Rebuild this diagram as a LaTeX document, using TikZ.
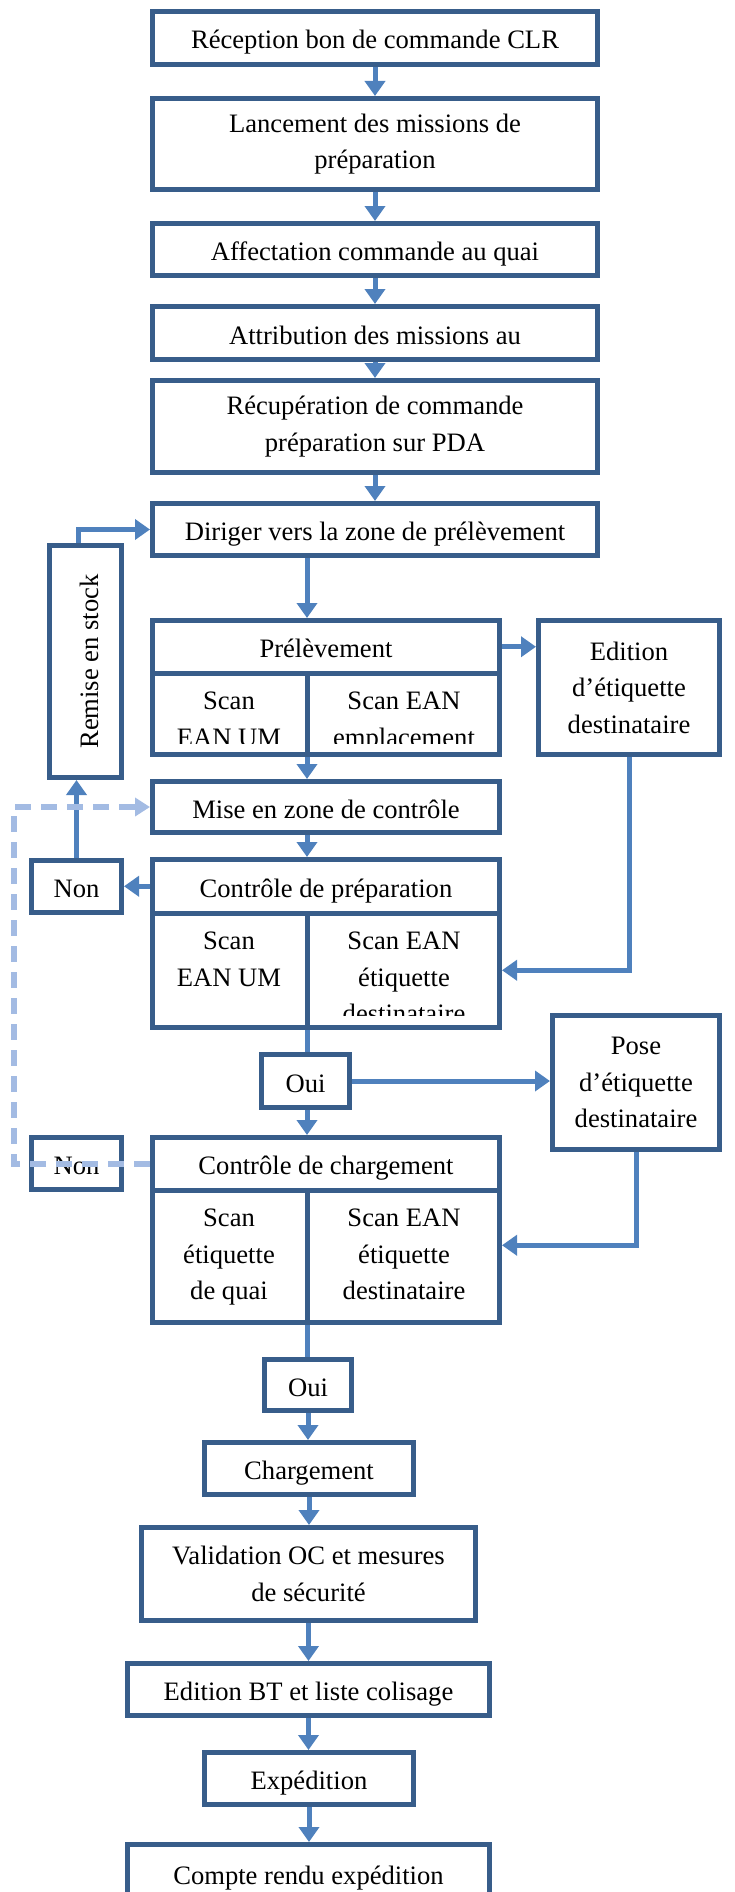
\documentclass[tikz,border=0pt]{standalone}
\usepackage{fontspec}
\setmainfont{Liberation Serif}
\usetikzlibrary{arrows.meta,calc}
\definecolor{frameblue}{HTML}{385D8A}
\definecolor{arrowblue}{HTML}{4F81BD}
\definecolor{dashblue}{HTML}{A3BBE3}

\begin{document}
\begin{tikzpicture}[x=1pt,y=-1pt,
  box/.style={draw=frameblue, line width=5pt, inner sep=0pt, align=center,
    font=\fontsize{26.6}{36.5}\selectfont},
  one/.style={text height=22pt, text depth=0pt},
  cellbox/.style={draw=frameblue, line width=5pt, inner sep=0pt},
  txt/.style={inner sep=0pt, align=center, anchor=north,
    font=\fontsize{26.6}{36.5}\selectfont},
  arrowline/.style={draw=arrowblue, line width=5pt,
    -{Triangle[length=15pt,width=20pt]}},
  plainline/.style={draw=arrowblue, line width=5pt},
  dashline/.style={draw=dashblue, line width=6pt, dash pattern=on 16pt off 10pt,
    -{Triangle[length=15pt,width=18pt]}},
]
\useasboundingbox (0,0) rectangle (734,1892);
\clip (0,0) rectangle (734,1892);

% main column, upper part
\node[box, one, minimum width=445pt, minimum height=53pt] (b1) at (375,38) {Réception bon de commande CLR};
\node[box, minimum width=445pt, minimum height=91pt] (b2) at (375,144) {Lancement des missions de\\préparation};
\node[box, one, minimum width=445pt, minimum height=52pt] (b3) at (375,249.5) {Affectation commande au quai};
\node[box, one, minimum width=445pt, minimum height=53pt] (b4) at (375,333) {Attribution des missions au};
\node[box, minimum width=445pt, minimum height=92pt] (b5) at (375,426.5) {Récupération de commande\\préparation sur PDA};
\node[box, one, minimum width=445pt, minimum height=52pt] (b6) at (375,529.5) {Diriger vers la zone de prélèvement};

% return to stock
\node[cellbox, minimum width=72pt, minimum height=232pt] (stock) at (85.5,661.5) {};
\node[txt, anchor=center, rotate=90] (stocktxt) at (89,661.5) {Remise en stock};

% picking
\node[box, one, minimum width=347pt, minimum height=52.5pt] (prelH) at (326,646.75) {Prélèvement};
\node[cellbox, minimum width=154.5pt, minimum height=81.5pt] (prelA) at (229.75,713.75) {};
\node[cellbox, minimum width=192.5pt, minimum height=81.5pt] (prelB) at (403.25,713.75) {};
\begin{scope}
  \clip (155,676) rectangle (497,743);
  \node[txt] (tprelA) at (229,692) {Scan\\EAN UM};
  \node[txt] (tprelB) at (404,692) {Scan EAN\\emplacement};
\end{scope}

\node[box, minimum width=181pt, minimum height=134pt] (edit) at (629,687.5) {Edition\\d’étiquette\\destinataire};

\node[box, one, minimum width=347pt, minimum height=51pt] (mise) at (326,807) {Mise en zone de contrôle};

% preparation check
\node[box, one, minimum width=347pt, minimum height=53.5pt] (cpH) at (326,886.25) {Contrôle de préparation};
\node[cellbox, minimum width=154.5pt, minimum height=114.5pt] (cpA) at (229.75,970.25) {};
\node[cellbox, minimum width=192.5pt, minimum height=114.5pt] (cpB) at (403.25,970.25) {};
\begin{scope}
  \clip (155,916) rectangle (497,1015);
  \node[txt] (tcpA) at (229,932) {Scan\\EAN UM};
  \node[txt] (tcpB) at (404,932) {Scan EAN\\étiquette\\destinataire};
\end{scope}

\node[box, one, minimum width=90pt, minimum height=52pt] (non1) at (76.5,886.5) {Non};
\node[box, one, minimum width=88pt, minimum height=53pt] (oui1) at (305.5,1081) {Oui};
\node[box, minimum width=167pt, minimum height=134pt] (pose) at (636,1082.5) {Pose\\d’étiquette\\destinataire};
\node[box, one, minimum width=90pt, minimum height=52pt] (non2) at (76.5,1163.5) {Non};

% loading check
\node[box, one, minimum width=347pt, minimum height=52.5pt] (ccH) at (326,1163.75) {Contrôle de chargement};
\node[cellbox, minimum width=154.5pt, minimum height=132.5pt] (ccA) at (229.75,1256.25) {};
\node[cellbox, minimum width=192.5pt, minimum height=132.5pt] (ccB) at (403.25,1256.25) {};
\node[txt] (tccA) at (229,1209) {Scan\\étiquette\\de quai};
\node[txt] (tccB) at (404,1209) {Scan EAN\\étiquette\\destinataire};

\node[box, one, minimum width=87pt, minimum height=51pt] (oui2) at (308,1385) {Oui};

% main column, lower part
\node[box, one, minimum width=209pt, minimum height=52pt] (charg) at (309,1468.5) {Chargement};
\node[box, minimum width=334pt, minimum height=93pt] (valid) at (308.5,1574) {Validation OC et mesures\\de sécurité};
\node[box, one, minimum width=362pt, minimum height=52pt] (editbt) at (308.5,1689.5) {Edition BT et liste colisage};
\node[box, one, minimum width=209pt, minimum height=52pt] (exped) at (309,1778.5) {Expédition};
\node[box, minimum width=362pt, minimum height=58pt, text height=22pt, text depth=0pt] (compte) at (308.5,1873.5) {Compte rendu expédition};

% connectors
\coordinate (split) at (307,0);
\coordinate (rail) at (14,0);

\draw[arrowline] (b1.south) -- (b2.north);
\draw[arrowline] (b2.south) -- (b3.north);
\draw[arrowline] (b3.south) -- (b4.north);
\draw[arrowline] (b4.south) -- (b5.north);
\draw[arrowline] (b5.south) -- (b6.north);
\draw[arrowline] (split |- b6.south) -- (split |- prelH.north);
\draw[arrowline] (prelH.east) -- (prelH.east -| edit.west);
\draw[arrowline] (split |- prelA.south) -- (split |- mise.north);
\draw[arrowline] (split |- mise.south) -- (split |- cpH.north);
\draw[arrowline] (cpH.west) -- (cpH.west -| non1.east);
\draw[arrowline] (non1.north) -- (non1.north |- stock.south);
\draw[arrowline] ([xshift=-7.5pt]stock.north) |- (b6.west);
\draw[arrowline] (edit.south) |- (cpB.east);
\draw[plainline] (split |- cpA.south) -- (split |- oui1.north);
\draw[arrowline] (oui1.east) -- (oui1.east -| pose.west);
\draw[arrowline] (split |- oui1.south) -- (split |- ccH.north);
\draw[arrowline] (pose.south) |- ($(ccB.east)+(0,-11)$);
\draw[plainline] (split |- ccA.south) -- (split |- oui2.north);
\draw[arrowline] (oui2.south) -- (oui2.south |- charg.north);
\draw[arrowline] (charg.south) -- (charg.south |- valid.north);
\draw[arrowline] (valid.south) -- (valid.south |- editbt.north);
\draw[arrowline] (editbt.south) -- (editbt.south |- exped.north);
\draw[arrowline] (exped.south) -- (exped.south |- compte.north);

% dashed return from the loading check
\draw[dashline] (ccH.west) -- (rail |- ccH.west) -- (rail |- mise.west) -- (mise.west);
\end{tikzpicture}
\end{document}
